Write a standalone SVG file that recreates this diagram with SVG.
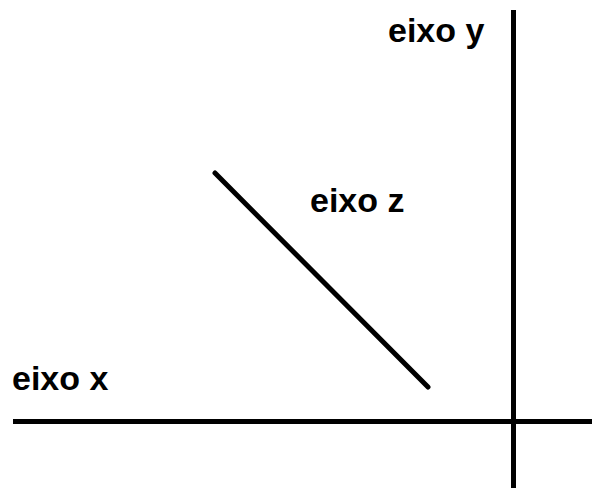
<svg xmlns="http://www.w3.org/2000/svg" width="592" height="488" viewBox="0 0 592 488">
<style>
.axis{stroke:#000;stroke-width:5;fill:none}
.lbl{font-family:"Liberation Sans",Arial,sans-serif;font-weight:bold;font-size:34px;fill:#000}
</style>
<rect width="592" height="488" fill="#fff"/>
<g id="connectors">
<line class="axis" x1="13" y1="421.5" x2="592" y2="421.5"/>
<line class="axis" x1="513.5" y1="10" x2="513.5" y2="488"/>
<line class="axis" x1="215" y1="173" x2="428" y2="387" stroke-linecap="round"/>
</g>
<g id="label-y"><text class="lbl" x="388" y="42">eixo y</text></g>
<g id="label-z"><text class="lbl" x="310" y="212">eixo z</text></g>
<g id="label-x"><text class="lbl" x="12" y="390">eixo x</text></g>
</svg>
